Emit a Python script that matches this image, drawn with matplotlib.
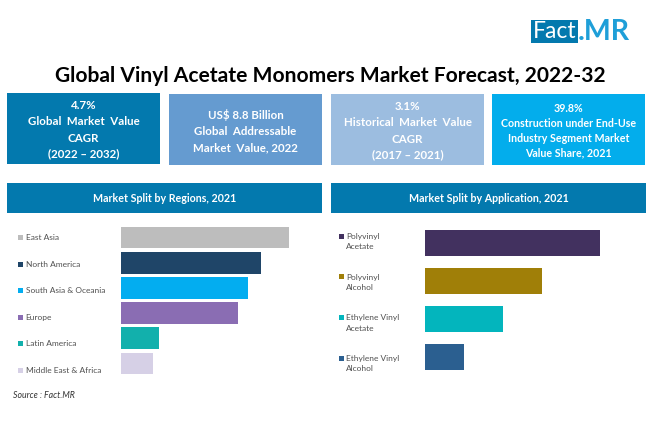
import matplotlib
matplotlib.use('Agg')
import matplotlib.pyplot as plt
from matplotlib.patches import Rectangle

plt.rcParams['font.family'] = ['Lato', 'DejaVu Sans']

title = 'Global Vinyl Acetate Monomers Market Forecast, 2022-32'

# top boxes
box_texts = ['4.7%\nGlobal  Market  Value\nCAGR\n(2022 – 2032)',
             'US$ 8.8 Billion\nGlobal  Addressable\nMarket  Value, 2022',
             '3.1%\nHistorical  Market  Value\nCAGR\n(2017 – 2021)',
             '39.8%\nConstruction under End-Use\nIndustry Segment Market\nValue Share, 2021']
box_colors = ['#0379ae', '#659bd0', '#9cbde0', '#03adec']

# bars
regions = ['East Asia', 'North America', 'South Asia & Oceania', 'Europe', 'Latin America', 'Middle East & Africa']
region_vals = [167.5, 140, 127, 117, 38, 32]
region_colors = ['#bdbdbd', '#1f4568', '#03adf0', '#8a6db3', '#12b0ac', '#d6d0e6']

apps = ['Polyvinyl\nAcetate', 'Polyvinyl\nAlcohol', 'Ethylene Vinyl\nAcetate', 'Ethylene Vinyl\nAlcohol']
app_vals = [175, 117, 78.5, 39.5]
app_colors = ['#42315f', '#a07f08', '#03b5bd', '#2b5f90']

W, H = 650, 443
fig = plt.figure(figsize=(W / 100, H / 100), dpi=100)

# page layer in pixel coords
page = fig.add_axes([0, 0, 1, 1])
page.set_xlim(0, W)
page.set_ylim(H, 0)
page.axis('off')

# logo
page.add_patch(Rectangle((531, 20), 47, 23, color='#0379ae', lw=0))
page.text(554.5, 31.5, 'Fact', color='white', fontsize=16.5, ha='center', va='center')
page.text(577.5, 31.5, '.MR', color='#1f9fd8', fontsize=20.5, fontweight='bold', ha='left', va='center')

page.text(330.5, 76, title, fontsize=15.1, fontweight='bold', color='black', ha='center', va='center')

box_x = [7, 169, 331, 492]
box_y = [93, 94, 94, 94]
box_size = [8.3, 8.3, 8.3, 7.7]
box_spacing = [1.56, 1.56, 1.56, 1.42]
for x, y, c, t, s, ls in zip(box_x, box_y, box_colors, box_texts, box_size, box_spacing):
    page.add_patch(Rectangle((x, y), 153, 71, color=c, lw=0))
    page.text(x + 76.5, y + 37, t, color='white', fontsize=s, fontweight='bold', ha='center', va='center',
              linespacing=ls)

# section headers
page.add_patch(Rectangle((7, 183), 315, 30, color='#0379ae', lw=0))
page.text(164.5, 198, 'Market Split by Regions, 2021', color='white', fontsize=7.7, fontweight='bold', ha='center', va='center')
page.add_patch(Rectangle((331, 183), 315, 30, color='#0379ae', lw=0))
page.text(488.5, 198, 'Market Split by Application, 2021', color='white', fontsize=7.7, fontweight='bold', ha='center', va='center')


def bar_panel(x0, x1, y0, y1, labels, vals, colors, bar_h, marker_x, text_x, label_y, label_step):
    ax = fig.add_axes([x0 / W, 1 - y1 / H, (x1 - x0) / W, (y1 - y0) / H])
    ys = list(range(len(vals)))
    ax.barh(ys, vals, color=colors, height=bar_h)
    ax.set_xlim(0, x1 - x0)
    ax.set_ylim(len(vals) - 0.5, -0.5)
    ax.axis('off')
    for i, (lab, c) in enumerate(zip(labels, colors)):
        yc = label_y + label_step * i
        page.add_patch(Rectangle((marker_x, yc - 2.5 - (5.5 if '\n' in lab else 0)), 5, 5, color=c, lw=0))
        page.text(text_x, yc, lab, fontsize=6, color='#505050', ha='left', va='center', linespacing=1.55)


bar_panel(121, 321, 225, 376, regions, region_vals, region_colors, 0.86, 18, 25.5, 237.5, 26.6)
bar_panel(424.5, 640, 224.5, 375.5, apps, app_vals, app_colors, 0.69, 338.5, 346, 241.5, 40.7)

page.text(13, 395.5, 'Source : Fact.MR', fontsize=6.3, fontstyle='italic', color='#333333', ha='left', va='center')

fig.savefig('out.png', dpi=100)
